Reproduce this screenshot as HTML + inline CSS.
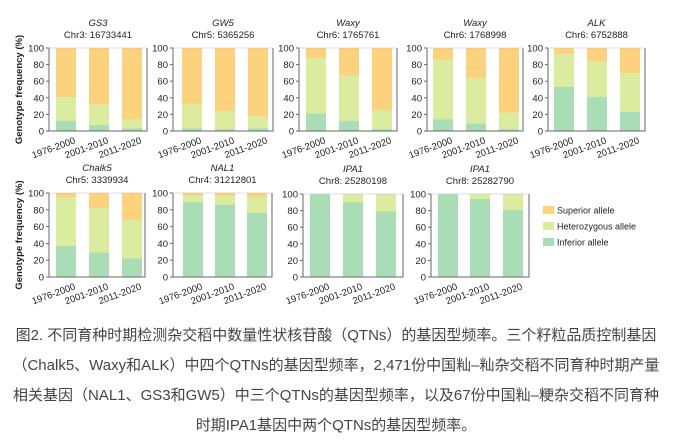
<!DOCTYPE html>
<html><head><meta charset="utf-8"><style>
body{margin:0;background:#fff;width:673px;height:447px;overflow:hidden}
svg{display:block}
text{font-family:"Liberation Sans","Noto Sans CJK SC",sans-serif;fill:#222}
</style></head><body>
<svg width="673" height="447" xmlns="http://www.w3.org/2000/svg" id="s">
</svg>
<script>
const S=document.getElementById('s');let h='';
const C={sup:'#FCD27C',het:'#DBEC9F',inf:'#A9DDB6'};
function panel(L,top,bot,W,t1,t2,data,off,ylab){
  const H=bot-top;const y=v=>bot-v/100*H;
  h+=`<text x="${L+W/2}" y="${top-22}" font-size="9.5" font-style="italic" text-anchor="middle">${t1}</text>`;
  h+=`<text x="${L+W/2}" y="${top-10}" font-size="9.5" text-anchor="middle">${t2}</text>`;
  data.forEach((d,i)=>{const x=L+off[i];
    h+=`<rect x="${x}" y="${top}" width="20" height="${H}" fill="${C.sup}"/>`;
    h+=`<rect x="${x}" y="${y(d[1])}" width="20" height="${bot-y(d[1])}" fill="${C.het}"/>`;
    h+=`<rect x="${x}" y="${y(d[0])}" width="20" height="${bot-y(d[0])}" fill="${C.inf}"/>`;
  });
  h+=`<path d="M${L} ${top}V${bot}H${L+W}V${top}" fill="none" stroke="#666" stroke-width="1"/>`;
  h+=`<path d="M${L} ${top}H${L+W}" stroke="#bbb" stroke-width="0.6"/>`;
  [0,20,40,60,80,100].forEach(v=>{h+=`<line x1="${L-3}" x2="${L}" y1="${y(v)}" y2="${y(v)}" stroke="#666"/><text x="${L-5}" y="${y(v)+3.5}" font-size="9.5" text-anchor="end">${v}</text>`});
  ['1976-2000','2001-2010','2011-2020'].forEach((s,i)=>{const x=L+off[i]+12;
    h+=`<text transform="translate(${x+8},${bot+12}) rotate(-20)" font-size="9.5" text-anchor="end">${s}</text>`});
  if(ylab)h+=`<text transform="translate(22,${(top+bot)/2}) rotate(-90)" font-size="9.5" font-weight="bold" text-anchor="middle">Genotype frequency (%)</text>`;
}
const off=[7,40,73];
panel(49,48,131,98,'GS3','Chr3: 16733441',[[12,41],[7,32],[3,14]],off,1);
panel(173,48,131,100,'GW5','Chr5: 5365256',[[3,33],[2,24],[3,18]],[9,42,75]);
panel(299,48,131,98,'Waxy','Chr6: 1765761',[[21,88],[12,67],[2,25]],off);
panel(427,48,131,96,'Waxy','Chr6: 1768998',[[14,86],[9,64],[2,22]],[6,39,72]);
panel(548,48,131,97,'ALK','Chr6: 6752888',[[53,93],[41,84],[23,70]],[6,39,72]);
panel(49,193,277,96,'Chalk5','Chr5: 3339934',[[37,95],[29,82],[22,68]],off,1);
panel(173,193,277,99,'NAL1','Chr4: 31212801',[[89,97],[86,97],[76,96]],[10,42,74]);
panel(303,194,277,100,'IPA1','Chr8: 25280198',[[100,100],[90,100],[79,100]],off);
panel(431,194,277,98,'IPA1','Chr8: 25282790',[[100,100],[94,100],[81,100]],[7,39,72]);
[['Superior allele',C.sup],['Heterozygous allele',C.het],['Inferior allele',C.inf]].forEach((l,i)=>{
  const y=206+i*16;h+=`<rect x="543" y="${y}" width="11" height="8" fill="${l[1]}"/><text x="557" y="${y+7.5}" font-size="9">${l[0]}</text>`});
const cap=['图2. 不同育种时期检测杂交稻中数量性状核苷酸（QTNs）的基因型频率。三个籽粒品质控制基因',
'（Chalk5、Waxy和ALK）中四个QTNs的基因型频率，2,471份中国籼–籼杂交稻不同育种时期产量',
'相关基因（NAL1、GS3和GW5）中三个QTNs的基因型频率，以及67份中国籼–粳杂交稻不同育种',
'时期IPA1基因中两个QTNs的基因型频率。'];
cap.forEach((c,i)=>{h+=`<text x="336" y="${340+i*30}" font-size="15" text-anchor="middle" style="fill:#444" textLength="${i==3?'':''}">${c}</text>`});
S.innerHTML=h;
</script>
</body></html>
